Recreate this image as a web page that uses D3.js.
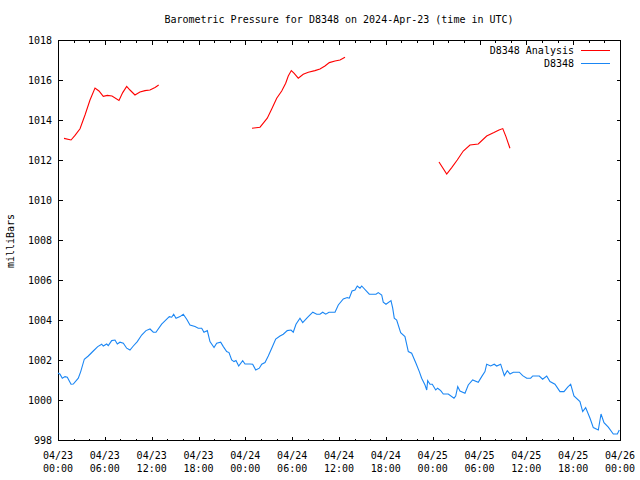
<!DOCTYPE html>
<html>
<head>
<meta charset="utf-8">
<script src="https://cdn.jsdelivr.net/npm/d3@7"></script>
<style>
  body { margin: 0; background: #fff; }
  svg { display: block; }
  text { font-family: "DejaVu Sans Mono", "Liberation Mono", monospace; font-size: 10px; fill: #000; }
</style>
</head>
<body>
<script>
// ---- Data (time in hours since 2024-04-23 00:00 UTC, pressure in millibars) ----
const analysisSeg1Hours = [0.77,1.67,2.18,2.82,3.46,4.10,4.74,5.25,5.80,6.32,6.92,7.81,8.29,8.80,9.22,9.86,10.50,11.14,11.78,12.43,12.90];
const analysisSeg1Values = [1013.08,1013.00,1013.23,1013.56,1014.25,1015.00,1015.60,1015.45,1015.18,1015.23,1015.20,1014.98,1015.37,1015.68,1015.50,1015.25,1015.40,1015.47,1015.50,1015.63,1015.75];
const analysisSeg2Hours = [24.85,25.88,26.30,26.81,27.38,28.02,28.66,29.17,29.50,29.89,30.23,30.78,31.42,32.07,32.92,33.56,34.20,34.76,35.49,36.13,36.77];
const analysisSeg2Values = [1013.59,1013.64,1013.84,1014.09,1014.55,1015.09,1015.45,1015.84,1016.20,1016.47,1016.34,1016.09,1016.29,1016.39,1016.47,1016.55,1016.70,1016.87,1016.95,1017.00,1017.14];
const analysisSeg3Hours = [48.81,49.80,50.44,51.15,51.92,52.78,53.84,54.92,55.85,56.50,56.98,57.39,57.90];
const analysisSeg3Values = [1011.90,1011.30,1011.62,1012.00,1012.45,1012.75,1012.80,1013.20,1013.37,1013.50,1013.57,1013.17,1012.59];

const stationHours = [0,0.26,0.55,0.90,1.19,1.67,1.96,2.60,2.91,3.37,3.88,4.52,5.09,5.60,5.80,6.24,6.44,6.88,7.30,7.60,7.94,8.37,8.80,9.22,9.65,10.16,10.72,11.27,11.79,12.21,12.55,13.28,13.93,14.26,14.57,14.82,15.12,15.63,16.05,16.49,16.91,17.55,17.97,18.41,18.70,19.13,19.47,19.99,20.33,20.84,21.18,21.61,21.91,22.25,22.55,22.80,23.15,23.66,23.96,24.60,24.94,25.33,25.79,26.10,26.52,26.94,27.38,27.89,28.44,28.86,29.37,29.85,30.14,30.49,31.00,31.35,31.94,32.64,33.15,33.56,33.91,34.30,34.72,35.49,35.91,36.55,37.06,37.32,37.67,38.05,38.34,38.69,38.91,39.88,40.74,41.03,41.47,41.67,42.02,42.66,42.88,43.08,43.39,43.90,44.45,44.88,45.31,45.86,46.29,46.59,47.02,47.24,47.36,47.66,47.95,48.39,48.64,49.03,49.36,50.00,50.73,50.95,51.21,51.50,52.14,52.56,53.12,53.84,54.28,54.70,54.92,55.43,55.89,56.20,56.71,57.18,57.56,57.91,58.33,59.10,59.53,60.05,60.56,60.82,61.66,62.09,62.61,63.03,63.67,64.31,64.82,65.30,65.68,66.10,66.87,67.22,67.60,68.16,68.58,69.22,69.57,69.95,70.50,71.14,71.66,71.91];
const stationValues = [1001.35,1001.29,1001.09,1001.17,1001.14,1000.79,1000.80,1001.09,1001.42,1002.04,1002.20,1002.45,1002.67,1002.79,1002.70,1002.80,1002.72,1002.97,1003.00,1002.80,1002.89,1002.84,1002.59,1002.50,1002.70,1002.92,1003.25,1003.47,1003.55,1003.39,1003.39,1003.79,1004.04,1004.17,1004.14,1004.29,1004.09,1004.17,1004.29,1004.04,1003.75,1003.67,1003.59,1003.59,1003.39,1003.47,1002.92,1002.62,1002.84,1002.89,1002.67,1002.42,1002.37,1002.00,1001.92,1001.97,1001.70,1001.97,1001.80,1001.80,1001.79,1001.50,1001.59,1001.79,1001.87,1002.20,1002.59,1003.05,1003.20,1003.29,1003.47,1003.50,1003.39,1003.79,1004.09,1003.87,1004.12,1004.39,1004.29,1004.29,1004.39,1004.29,1004.39,1004.39,1004.75,1005.05,1005.12,1005.09,1005.45,1005.50,1005.70,1005.59,1005.70,1005.29,1005.29,1005.37,1005.25,1004.89,1004.79,1004.97,1004.59,1004.09,1004.00,1003.37,1003.17,1002.42,1002.34,1001.84,1001.42,1001.09,1000.75,1000.50,1000.97,1000.79,1000.79,1000.50,1000.59,1000.47,1000.30,1000.30,1000.09,1000.20,1000.67,1000.45,1000.34,1000.75,1001.00,1000.89,1001.17,1001.42,1001.79,1001.70,1001.79,1001.70,1001.79,1001.22,1001.47,1001.30,1001.39,1001.39,1001.22,1001.09,1001.09,1001.20,1001.20,1001.04,1001.20,1000.92,1000.79,1000.42,1000.42,1000.64,1000.79,1000.20,999.92,999.42,999.62,999.09,998.62,998.50,999.30,998.87,998.64,998.30,998.30,998.50];

const xMajorTicks = [0,6,12,18,24,30,36,42,48,54,60,66,72];
const xTickDates = ["04/23","04/23","04/23","04/23","04/24","04/24","04/24","04/24","04/25","04/25","04/25","04/25","04/26"];
const xTickTimes = ["00:00","06:00","12:00","18:00","00:00","06:00","12:00","18:00","00:00","06:00","12:00","18:00","00:00"];
const xMinorTicks = d3.range(0, 73, 2);
const yTicks = [998,1000,1002,1004,1006,1008,1010,1012,1014,1016,1018];

const titleText = "Barometric Pressure for D8348 on 2024-Apr-23 (time in UTC)";
const yLabelText = "milliBars";
const seriesNames = ["D8348 Analysis", "D8348"];
const seriesColors = ["#ff0000", "#1a86f4"];

// ---- Layout ----
const W = 640, H = 480;
const mLeft = 58, mRight = 620, mTop = 40, mBottom = 440;

const svg = d3.select("body").append("svg").attr("width", W).attr("height", H);

const x = d3.scaleLinear().domain([0, 72]).range([mLeft, mRight]);
const y = d3.scaleLinear().domain([998, 1018]).range([mBottom, mTop]);

// Axes (ticks inward)
svg.append("g").attr("transform", `translate(0,${mBottom + 0.5})`)
  .call(d3.axisBottom(x).tickValues(xMinorTicks).tickSize(-2).tickFormat(""));
const axB2 = svg.append("g").attr("transform", `translate(0,${mBottom + 0.5})`)
  .call(d3.axisBottom(x).tickValues(xMajorTicks).tickSize(-4).tickFormat(""));
svg.append("g").attr("transform", `translate(0,${mTop + 0.5})`)
  .call(d3.axisTop(x).tickValues(xMinorTicks).tickSize(-2).tickFormat(""));
svg.append("g").attr("transform", `translate(0,${mTop + 0.5})`)
  .call(d3.axisTop(x).tickValues(xMajorTicks).tickSize(-4).tickFormat(""));
const axL = svg.append("g").attr("transform", `translate(${mLeft + 0.5},0)`)
  .call(d3.axisLeft(y).tickValues(yTicks).tickSize(-4).tickPadding(10).tickFormat(d3.format("d")));
svg.append("g").attr("transform", `translate(${mRight + 0.5},0)`)
  .call(d3.axisRight(y).tickValues(yTicks).tickSize(-4).tickFormat(""));

svg.selectAll(".domain").remove();
svg.selectAll(".tick line").attr("stroke", "#000").attr("shape-rendering", "crispEdges");
axL.selectAll(".tick text")
  .attr("font-family", "DejaVu Sans Mono, monospace").attr("font-size", 10)
  .attr("x", -6.5).attr("dy", "0.35em").attr("fill", "#000");

// two-line x labels
axB2.selectAll(".tick").each(function(d, i) {
  const t = d3.select(this).append("text")
    .attr("text-anchor", "middle").attr("fill", "#000")
    .attr("font-family", "DejaVu Sans Mono, monospace").attr("font-size", 10);
  t.append("tspan").attr("x", -0.5).attr("y", 18).text(xTickDates[i]);
  t.append("tspan").attr("x", -0.5).attr("y", 31).text(xTickTimes[i]);
});

// frame
svg.append("rect").attr("x", mLeft + 0.5).attr("y", mTop + 0.5)
  .attr("width", mRight - mLeft).attr("height", mBottom - mTop)
  .attr("fill", "none").attr("stroke", "#000").attr("shape-rendering", "crispEdges");

// lines
const line = d3.line().x(d => x(d[0])).y(d => y(d[1]));
const zip = (a, b) => a.map((v, i) => [v, b[i]]);
const analysisSegments = [
  zip(analysisSeg1Hours, analysisSeg1Values),
  zip(analysisSeg2Hours, analysisSeg2Values),
  zip(analysisSeg3Hours, analysisSeg3Values)
];
const plot = svg.append("g");
analysisSegments.forEach(seg => {
  plot.append("path").datum(seg).attr("d", line)
    .attr("fill", "none").attr("stroke", seriesColors[0]).attr("stroke-width", 1.1);
});
plot.append("path").datum(zip(stationHours, stationValues)).attr("d", line)
  .attr("fill", "none").attr("stroke", seriesColors[1]).attr("stroke-width", 1.1);

// title
svg.append("text").attr("x", (mLeft + mRight) / 2).attr("y", 23)
  .attr("text-anchor", "middle").text(titleText);

// y label
svg.append("text").attr("transform", `translate(14,241) rotate(-90)`)
  .attr("text-anchor", "middle").text(yLabelText);

// legend
seriesNames.forEach((name, i) => {
  const ly = 50 + i * 13;
  svg.append("text").attr("x", 574).attr("y", ly).attr("dy", "0.35em")
    .attr("text-anchor", "end").text(name);
  svg.append("line").attr("x1", 581).attr("x2", 610).attr("y1", ly + 0.5).attr("y2", ly + 0.5)
    .attr("stroke", seriesColors[i]).attr("stroke-width", 1).attr("shape-rendering", "crispEdges");
});
</script>
</body>
</html>
